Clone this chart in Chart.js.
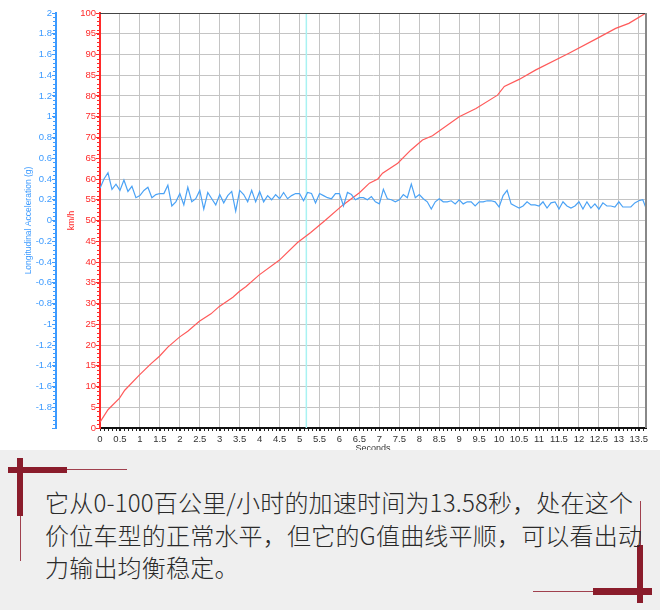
<!DOCTYPE html>
<html>
<head>
<meta charset="utf-8">
<script src="https://cdn.jsdelivr.net/npm/chart.js@4.4.1/dist/chart.umd.min.js"></script>
<style>
  html, body { margin: 0; padding: 0; background: #fff; }
  #wrap { position: relative; width: 660px; height: 610px; overflow: hidden; }
  #chart { position: absolute; left: 0; top: 0; }
  #panel { position: absolute; left: 0; top: 450px; width: 660px; height: 160px; background: #efefef; }
  .bar { position: absolute; background: #8a1c2b; }
  .thin { position: absolute; background: #a0404e; }
  #note {
    position: absolute; left: 45px; top: 36px;
    font-family: "Noto Sans CJK SC", sans-serif; font-weight: 300;
    font-size: 24px; line-height: 32.5px; color: #2a2a2a; white-space: nowrap;
    letter-spacing: 0.2px;
  }
</style>
</head>
<body>
<div id="wrap">
  <canvas id="chart" width="660" height="460"></canvas>
  <div id="panel">
    <div class="bar" style="left:8px;top:17px;width:59px;height:6px"></div>
    <div class="thin" style="left:67px;top:19px;width:60px;height:1px"></div>
    <div class="bar" style="left:17px;top:8px;width:6px;height:58px"></div>
    <div class="thin" style="left:20px;top:66px;width:1px;height:45px"></div>
    <div class="thin" style="left:640px;top:51px;width:1px;height:44px"></div>
    <div class="bar" style="left:637px;top:95px;width:6px;height:58px"></div>
    <div class="bar" style="left:593px;top:138px;width:59px;height:7px"></div>
    <div class="thin" style="left:533px;top:141px;width:60px;height:1px"></div>
    <div id="note">它从0-100百公里/小时的加速时间为13.58秒，处在这个<br>价位车型的正常水平，但它的G值曲线平顺，可以看出动<br>力输出均衡稳定。</div>
  </div>
</div>
<script>
// Longitudinal acceleration (g), sampled every 0.1 s
const accTimes = [
  0, 0.1, 0.2, 0.3, 0.4, 0.5, 0.6, 0.7, 0.8, 0.9,
  1, 1.1, 1.2, 1.3, 1.4, 1.5, 1.6, 1.7, 1.8, 1.9,
  2, 2.1, 2.2, 2.3, 2.4, 2.5, 2.6, 2.7, 2.8, 2.9,
  3, 3.1, 3.2, 3.3, 3.4, 3.5, 3.6, 3.7, 3.8, 3.9,
  4, 4.1, 4.2, 4.3, 4.4, 4.5, 4.6, 4.7, 4.8, 4.9,
  5, 5.1, 5.2, 5.3, 5.4, 5.5, 5.6, 5.7, 5.8, 5.9,
  6, 6.1, 6.2, 6.3, 6.4, 6.5, 6.6, 6.7, 6.8, 6.9,
  7, 7.1, 7.2, 7.3, 7.4, 7.5, 7.6, 7.7, 7.8, 7.9,
  8, 8.1, 8.2, 8.3, 8.4, 8.5, 8.6, 8.7, 8.8, 8.9,
  9, 9.1, 9.2, 9.3, 9.4, 9.5, 9.6, 9.7, 9.8, 9.9,
  10, 10.1, 10.2, 10.3, 10.4, 10.5, 10.6, 10.7, 10.8, 10.9,
  11, 11.1, 11.2, 11.3, 11.4, 11.5, 11.6, 11.7, 11.8, 11.9,
  12, 12.1, 12.2, 12.3, 12.4, 12.5, 12.6, 12.7, 12.8, 12.9,
  13, 13.1, 13.2, 13.3, 13.4, 13.5, 13.6, 13.68
];
const accValues = [
  0.31, 0.40, 0.46, 0.30, 0.35, 0.29, 0.39, 0.28, 0.33, 0.22,
  0.24, 0.29, 0.32, 0.22, 0.25, 0.26, 0.26, 0.34, 0.14, 0.18,
  0.26, 0.15, 0.32, 0.18, 0.21, 0.29, 0.11, 0.27, 0.21, 0.15,
  0.25, 0.17, 0.24, 0.28, 0.09, 0.29, 0.25, 0.18, 0.29, 0.18,
  0.28, 0.18, 0.24, 0.20, 0.25, 0.21, 0.27, 0.21, 0.24, 0.26,
  0.26, 0.19, 0.27, 0.26, 0.17, 0.26, 0.24, 0.22, 0.21, 0.26,
  0.26, 0.14, 0.27, 0.25, 0.20, 0.22, 0.22, 0.20, 0.23, 0.18,
  0.16, 0.30, 0.21, 0.20, 0.18, 0.20, 0.25, 0.22, 0.35, 0.22,
  0.25, 0.21, 0.18, 0.11, 0.18, 0.21, 0.18, 0.18, 0.19, 0.16,
  0.20, 0.16, 0.18, 0.18, 0.14, 0.18, 0.18, 0.19, 0.19, 0.18,
  0.13, 0.24, 0.29, 0.16, 0.14, 0.12, 0.14, 0.18, 0.15, 0.15,
  0.14, 0.18, 0.12, 0.17, 0.18, 0.11, 0.18, 0.14, 0.12, 0.14,
  0.18, 0.11, 0.18, 0.12, 0.16, 0.11, 0.17, 0.14, 0.14, 0.13,
  0.18, 0.13, 0.13, 0.13, 0.17, 0.19, 0.20, 0.12
];

// Speed (km/h) read at points along the red trace
const speedTimes = [
  0, 0.2, 0.49, 0.62, 0.99, 1.28, 1.49, 1.7, 1.99, 2.2,
  2.49, 2.78, 2.99, 3.33, 3.49, 3.66, 3.99, 4.49, 4.95, 5.28,
  5.66, 6.08, 6.5, 6.75, 6.96, 7.08, 7.46, 7.79, 8.08, 8.33,
  9.0, 9.42, 9.96, 10.13, 10.5, 10.92, 11.75, 12.42, 12.92, 13.25, 13.68
];
const speedValues = [
  1.4, 4.4, 7.2, 9.1, 12.8, 15.5, 17.3, 19.5, 21.9, 23.3,
  25.7, 27.5, 29.3, 31.5, 32.9, 34.1, 36.9, 40.4, 44.7, 47.1,
  50.2, 53.7, 56.7, 59, 60, 61.4, 63.8, 67, 69.4, 70.4,
  75, 77, 80.2, 82.3, 84, 86.3, 90.3, 93.7, 96.3, 97.5, 100
];

// Axis ranges
const timeMax = 13.68;
const cursorTime = 5.17;
const accRange = [-2, 2];
const speedRange = [0, 100];

const tickFont = { family: '"Liberation Sans", Arial, sans-serif', size: 9.5 };
const blue = '#3d9bff';
const red = '#ff2a2a';
const gridGray = '#c4c4c4';

const shortNum = v => String(Number(v.toFixed(1)));

// small minor ticks, frame lines and the cursor line
const extras = {
  id: 'extras',
  beforeDatasetsDraw(chart) {
    const { ctx, chartArea, scales: { x } } = chart;
    const cx = x.getPixelForValue(cursorTime);
    ctx.save();
    ctx.strokeStyle = '#a8f2f2';
    ctx.lineWidth = 1.5;
    ctx.beginPath();
    ctx.moveTo(cx, chartArea.top);
    ctx.lineTo(cx, chartArea.bottom);
    ctx.stroke();
    ctx.restore();
  },
  afterDraw(chart) {
    const { ctx, chartArea, scales: { x, acc, kmh } } = chart;
    ctx.save();
    ctx.lineWidth = 1;
    // top and right frame
    ctx.strokeStyle = '#444';
    ctx.beginPath();
    ctx.moveTo(chartArea.left, chartArea.top + 0.5);
    ctx.lineTo(chartArea.right, chartArea.top + 0.5);
    ctx.stroke();
    ctx.strokeStyle = '#888';
    ctx.lineWidth = 2;
    ctx.beginPath();
    ctx.moveTo(chartArea.right, chartArea.top);
    ctx.lineTo(chartArea.right, chartArea.bottom);
    ctx.stroke();
    ctx.lineWidth = 1;
    // minor ticks on x
    ctx.strokeStyle = '#222';
    ctx.beginPath();
    for (let i = 0; i <= Math.floor(timeMax * 10); i++) {
      const px = Math.round(x.getPixelForValue(i / 10)) + 0.5;
      ctx.moveTo(px, x.top + 1);
      ctx.lineTo(px, x.top + 3);
    }
    ctx.stroke();
    // minor ticks on km/h
    ctx.strokeStyle = red;
    ctx.beginPath();
    for (let v = speedRange[0]; v <= speedRange[1]; v++) {
      const py = Math.round(kmh.getPixelForValue(v)) + 0.5;
      ctx.moveTo(kmh.right - 3, py);
      ctx.lineTo(kmh.right - 1, py);
    }
    ctx.stroke();
    // minor ticks on g
    ctx.strokeStyle = blue;
    ctx.beginPath();
    for (let k = -50; k <= 50; k++) {
      const py = Math.round(acc.getPixelForValue(k * 0.04)) + 0.5;
      ctx.moveTo(acc.right - 3, py);
      ctx.lineTo(acc.right - 1, py);
    }
    ctx.stroke();
    ctx.restore();
  }
};

new Chart(document.getElementById('chart'), {
  type: 'line',
  data: {
    datasets: [{
      label: 'Longitudinal Acceleration (g)',
      data: accTimes.map((t, i) => ({ x: t, y: accValues[i] })),
      borderColor: '#4aa2f5',
      borderWidth: 1.2,
      pointRadius: 0,
      tension: 0,
      yAxisID: 'acc'
    }, {
      label: 'km/h',
      data: speedTimes.map((t, i) => ({ x: t, y: speedValues[i] })),
      borderColor: '#ff5a5a',
      borderWidth: 1.2,
      pointRadius: 0,
      tension: 0,
      yAxisID: 'kmh'
    }]
  },
  options: {
    responsive: false,
    animation: false,
    layout: { padding: { top: 13, right: 14, left: 0, bottom: 0 } },
    plugins: { legend: { display: false }, tooltip: { enabled: false } },
    scales: {
      x: {
        type: 'linear',
        min: 0,
        max: timeMax,
        ticks: { stepSize: 0.5, includeBounds: false, autoSkip: false, maxRotation: 0, color: '#333', padding: 3, font: tickFont, callback: shortNum },
        grid: { color: gridGray, tickColor: '#222', tickLength: 3 },
        border: { color: '#111', width: 2 },
        title: { display: true, text: 'Seconds', color: '#333', font: { family: tickFont.family, size: 9 }, padding: { top: 0, bottom: 6 } },
        afterFit(s) { s.height = 32; }
      },
      acc: {
        type: 'linear',
        position: 'left',
        weight: 1,
        min: accRange[0],
        max: accRange[1],
        ticks: {
          stepSize: 0.2, autoSkip: false, color: blue, padding: 0, font: tickFont,
          callback: v => v <= -1.99 ? '' : shortNum(v)
        },
        grid: { drawOnChartArea: false, tickColor: blue, tickLength: 4 },
        border: { color: blue, width: 2 },
        title: { display: true, text: 'Longitudinal Acceleration (g)', color: blue, font: { family: tickFont.family, size: 8.5 }, padding: { top: 24, bottom: 0 } },
        afterFit(s) { s.width = 56; }
      },
      kmh: {
        type: 'linear',
        position: 'left',
        weight: 0,
        min: speedRange[0],
        max: speedRange[1],
        ticks: { stepSize: 5, autoSkip: false, color: red, padding: 0, font: tickFont },
        grid: { color: gridGray, tickColor: red, tickLength: 4 },
        border: { color: red, width: 2 },
        title: { display: true, text: 'km/h', color: red, font: { family: tickFont.family, size: 9 }, padding: { top: 10, bottom: 0 } },
        afterFit(s) { s.width = 44; }
      }
    }
  },
  plugins: [extras]
});
</script>
</body>
</html>
